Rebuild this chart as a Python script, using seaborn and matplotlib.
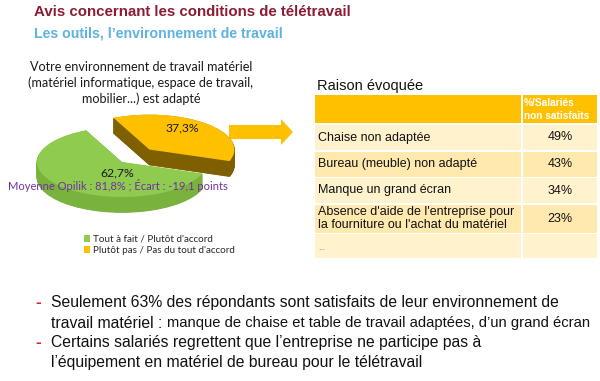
import matplotlib.pyplot as plt
import matplotlib.patches as mpatches
import seaborn as sns

# --- data ---
title = "Avis concernant les conditions de télétravail"
subtitle = "Les outils, l’environnement de travail"
question = "Votre environnement de travail matériel\n(matériel informatique, espace de travail,\nmobilier...) est adapté"
answers = ["Plutôt pas / Pas du tout d'accord", "Tout à fait / Plutôt d'accord"]
shares = [37.3, 62.7]
benchmark_note = "Moyenne Opilik : 81,8% ; Écart : -19,1 points"

table_title = "Raison évoquée"
table_header = "%/Salariés\nnon satisfaits"
reasons = ["Chaise non adaptée",
           "Bureau (meuble) non adapté",
           "Manque un grand écran",
           "Absence d'aide de l'entreprise pour\nla fourniture ou l'achat du matériel",
           "..."]
reason_pct = [49, 43, 34, 23, None]

bullet_1 = ["Seulement 63% des répondants sont satisfaits de leur environnement de",
            "travail matériel : ", "manque de chaise et table de travail adaptées, d’un grand écran"]
bullet_2 = ["Certains salariés regrettent que l’entreprise ne participe pas à",
            "l’équipement en matériel de bureau pour le télétravail"]

sns.set_theme(style="white")
plt.rcParams['font.family'] = ['Liberation Sans', 'DejaVu Sans']
calibri_like = ['Lato', 'DejaVu Sans']

W, H = 600, 381
fig = plt.figure(figsize=(W / 100, H / 100), dpi=100)
fig.patch.set_facecolor('white')

# overlay axes in pixel coordinates (y down) for text and shapes
ax0 = fig.add_axes([0, 0, 1, 1])
ax0.set_xlim(0, W)
ax0.set_ylim(H, 0)
ax0.axis('off')

ax0.text(34, 12, title, fontsize=10.8, fontweight='bold', color='#8C1C33', va='center')
ax0.text(34, 34, subtitle, fontsize=10.2, fontweight='bold', color='#5DB3E2', va='center')

ax0.text(141, 83, question, fontsize=9.1, family=calibri_like, color='#1a1a1a',
         ha='center', va='center', linespacing=1.3)

# --- 3D-looking pie ---
cx, cy, rx, ry = 122, 162, 85, 35
xl, yl = (-1.4, 1.8), (-1.8, 1.8)
ax_pie = fig.add_axes([(cx + xl[0] * rx) / W, (H - (cy - yl[0] * ry)) / H,
                       (xl[1] - xl[0]) * rx / W, (yl[1] - yl[0]) * ry / H])
ax_pie.set_zorder(2)
top_colors = ['#FFC000', '#8FCB4F']
side_colors = ['#7F6000', '#79B23C']
explode = [0.48, 0]
start = 115
depth, n_layers = 0.44, 24
for k in range(n_layers, 0, -1):
    d = depth * k / n_layers
    ax_pie.pie(shares, colors=side_colors, startangle=start, counterclock=False,
               explode=explode, center=(0, -d),
               wedgeprops=dict(linewidth=0.6))
    for w, c in zip(ax_pie.patches[-2:], side_colors):
        w.set_edgecolor(c)
wedges, _ = ax_pie.pie(shares, colors=top_colors, startangle=start, counterclock=False,
                       explode=explode, center=(0, 0),
                       wedgeprops=dict(linewidth=0))
ax_pie.set_aspect('auto')
ax_pie.set_xlim(*xl)
ax_pie.set_ylim(*yl)
ax_pie.axis('off')

fmt = lambda v: f"{v:.1f}%".replace('.', ',')
ax_pie.text(0.71, 0.97, fmt(shares[0]), fontsize=8.8, family=calibri_like,
            color='#1a1a1a', ha='center', va='center')
ax_pie.text(-0.06, -0.3, fmt(shares[1]), fontsize=8.8, family=calibri_like,
            color='#1a1a1a', ha='center', va='center')

fig.text(118 / W, 1 - 186 / H, benchmark_note, fontsize=8.0, family=calibri_like,
         color='#7030A0', ha='center', va='center', zorder=5)

leg = fig.legend(wedges[::-1], answers[::-1], loc='upper left',
                 bbox_to_anchor=(80 / W, 1 - 231 / H), frameon=False,
                 prop={'family': calibri_like, 'size': 7.1},
                 handlelength=0.6, handleheight=0.6, handletextpad=0.35,
                 labelspacing=0.2, borderaxespad=0)

# --- arrow ---
arrow = [(229, 125), (281, 125), (281, 119), (293, 132), (281, 145), (281, 139), (229, 139)]
ax0.add_patch(mpatches.Polygon(arrow, closed=True, facecolor='#FFC000', edgecolor='none'))

# --- table ---
ax0.text(317, 86, table_title, fontsize=10.5, color='#111111', va='center')
tx0, tsplit, tx1 = 315, 521, 597
ax0.add_patch(mpatches.Rectangle((tx0, 95), tsplit - tx0, 28, facecolor='#FFC000', edgecolor='none'))
ax0.add_patch(mpatches.Rectangle((tsplit + 1.5, 95), tx1 - tsplit - 1.5, 28, facecolor='#FFC000', edgecolor='none'))
ax0.text(524, 109.5, table_header, fontsize=7.3, fontweight='bold', color='white',
         va='center', ha='left', linespacing=1.3)
row_h = [25, 25, 25, 28, 24]
band = ['#FFF2CD', '#FFE9AE']
y = 125
for i, (label, pct) in enumerate(zip(reasons, reason_pct)):
    h = row_h[i]
    c = band[i % 2]
    ax0.add_patch(mpatches.Rectangle((tx0, y), tsplit - tx0, h, facecolor=c, edgecolor='none'))
    ax0.add_patch(mpatches.Rectangle((tsplit + 1.5, y), tx1 - tsplit - 1.5, h, facecolor=c, edgecolor='none'))
    if label == "...":
        ax0.text(318, y + h / 2 + 2, label, fontsize=6, color='#888888', va='center')
    else:
        ax0.text(318, y + h / 2, label, fontsize=9, color='#111111', va='center', linespacing=1.05)
    if pct is not None:
        ax0.text(560, y + h / 2, f"{pct}%", fontsize=9, color='#111111', va='center', ha='center')
    y += h + 1.5

# --- bullet comments ---
bfs = 11.3
bx = 51
for yy in (303, 343):
    ax0.text(bx - 16, yy, "-", fontsize=bfs + 1, fontweight='bold', color='#E0232B', va='center')
ax0.text(bx, 303, bullet_1[0], fontsize=bfs, color='#111111', va='center')
t = ax0.text(bx, 323, bullet_1[1], fontsize=bfs, color='#111111', va='center')
fig.canvas.draw()
bb = t.get_window_extent(renderer=fig.canvas.get_renderer())
ax0.text(bb.x1, 323.5, bullet_1[2], fontsize=10.6, color='#111111', va='center')
ax0.text(bx, 343, bullet_2[0], fontsize=bfs, color='#111111', va='center')
ax0.text(bx, 362, bullet_2[1], fontsize=bfs, color='#111111', va='center')

fig.savefig('out.png', dpi=100, facecolor='white')
